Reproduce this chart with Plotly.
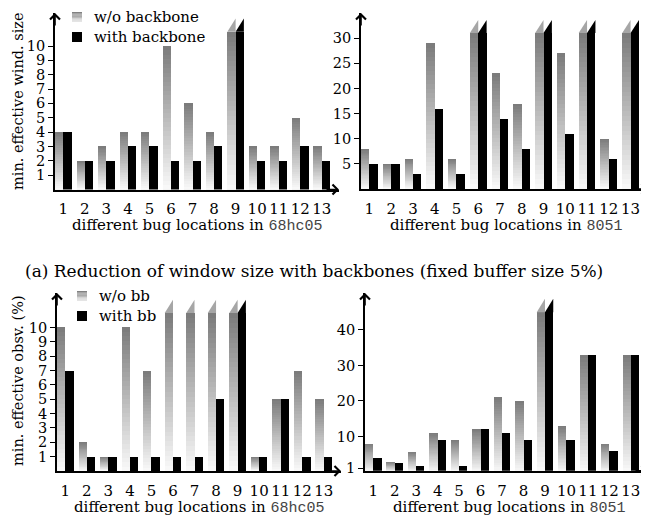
import plotly.graph_objects as go

# ---------------- data ----------------
categories = list(range(1, 14))
tick_labels = [str(c) for c in categories]

win_68hc05_wo = [4, 2, 3, 4, 4, 10, 6, 4, 11, 3, 3, 5, 3]
win_68hc05_with = [4, 2, 2, 3, 3, 2, 2, 3, 11, 2, 2, 3, 2]
win_68hc05_wo_cut = [9]
win_68hc05_with_cut = [9]
win_68hc05_yticks = [1, 2, 3, 4, 5, 6, 7, 8, 9, 10]

win_8051_wo = [8, 5, 6, 29, 6, 31, 23, 17, 31, 27, 31, 10, 31]
win_8051_with = [5, 5, 3, 16, 3, 31, 14, 8, 31, 11, 31, 6, 31]
win_8051_wo_cut = [6, 9, 11, 13]
win_8051_with_cut = [6, 9, 11, 13]
win_8051_yticks = [5, 10, 15, 20, 25, 30]

obs_68hc05_wo = [10, 2, 1, 10, 7, 11, 11, 11, 11, 1, 5, 7, 5]
obs_68hc05_with = [7, 1, 1, 1, 1, 1, 1, 5, 11, 1, 5, 1, 1]
obs_68hc05_wo_cut = [6, 7, 8, 9]
obs_68hc05_with_cut = [9]
obs_68hc05_yticks = [1, 2, 3, 4, 5, 6, 7, 8, 9, 10]

obs_8051_wo = [8, 2.9, 5.7, 10.9, 8.9, 12, 21, 20, 45, 13, 33, 8, 33]
obs_8051_with = [3.8, 2.6, 1.8, 8.9, 1.8, 12, 11, 8.9, 45, 8.9, 33, 5.8, 33]
obs_8051_wo_cut = [9]
obs_8051_with_cut = [9]
obs_8051_yticks = [1, 10, 20, 30, 40]

legend_top = ["w/o backbone", "with backbone"]
legend_bottom = ["w/o bb", "with bb"]
caption = "(a) Reduction of window size with backbones (fixed buffer size 5%)"

# ---------------- styling ----------------
PAGE_W, PAGE_H = 649, 522
OFF = 8  # default page margin around the plot div
W, H = PAGE_W - OFF, PAGE_H - OFF
SERIF = "DejaVu Serif"
MONO = "Liberation Mono"
BW = 0.385
N = 32
TOP_G, BOT_G = 122, 250


def px(x):
    return (x - OFF) / W


def py(y):
    return 1 - (y - OFF) / H


panels = [
    dict(wo=win_68hc05_wo, wi=win_68hc05_with, wcut=win_68hc05_wo_cut, icut=win_68hc05_with_cut,
         yt=win_68hc05_yticks, yr=[0, 12.3], xd=[55, 339], yd=[189.5, 13], ax=""),
    dict(wo=win_8051_wo, wi=win_8051_with, wcut=win_8051_wo_cut, icut=win_8051_with_cut,
         yt=win_8051_yticks, yr=[0, 35], xd=[361, 648], yd=[189, 13], ax="2"),
    dict(wo=obs_68hc05_wo, wi=obs_68hc05_with, wcut=obs_68hc05_wo_cut, icut=obs_68hc05_with_cut,
         yt=obs_68hc05_yticks, yr=[0, 12.4], xd=[57, 341], yd=[471, 293], ax="3"),
    dict(wo=obs_8051_wo, wi=obs_8051_with, wcut=obs_8051_wo_cut, icut=obs_8051_with_cut,
         yt=obs_8051_yticks, yr=[0.35, 50.4], xd=[365, 648], yd=[470.7, 293], ax="4"),
]

fig = go.Figure()
shapes = []
annotations = []
layout = {}

for p in panels:
    xa, ya = "x" + p["ax"], "y" + p["ax"]
    # gradient bars: overlaid progressively shorter & lighter bars
    for k in range(N):
        frac = (N - k) / N
        fm = (N - k - 0.5) / N
        g = round(BOT_G - (BOT_G - TOP_G) * fm)
        fig.add_trace(go.Bar(
            x=categories, y=[v * frac for v in p["wo"]], width=BW, offset=-BW,
            marker=dict(color=f"rgb({g},{g},{g})", line=dict(width=0)),
            xaxis=xa, yaxis=ya, showlegend=False, hoverinfo="skip"))
    fig.add_trace(go.Bar(
        x=categories, y=p["wi"], width=BW, offset=0,
        marker=dict(color="black", line=dict(width=0)),
        xaxis=xa, yaxis=ya, showlegend=False))
    # broken-bar caps
    cap = 0.075 * (p["yr"][1] - p["yr"][0])
    for c in p["wcut"]:
        v = p["wo"][categories.index(c)]
        shapes.append(dict(type="path", xref=xa, yref=ya, line=dict(width=0), fillcolor="#a6a6a6",
                           path=f"M {c - BW},{v} L {c},{v + cap} L {c},{v} Z"))
    for c in p["icut"]:
        v = p["wi"][categories.index(c)]
        shapes.append(dict(type="path", xref=xa, yref=ya, line=dict(width=0), fillcolor="black",
                           path=f"M {c},{v} L {c + BW},{v + cap} L {c + BW},{v} Z"))

    xkey = "xaxis" + p["ax"]
    ykey = "yaxis" + p["ax"]
    layout[xkey] = dict(
        domain=[px(p["xd"][0]), px(p["xd"][1])], range=[0.615, 13.8], anchor=ya,
        tickvals=categories, ticktext=tick_labels, ticks="outside", ticklen=5, tickangle=0,
        tickcolor="rgba(0,0,0,0)", showline=True, linecolor="black", linewidth=1.6,
        showgrid=False, zeroline=False, automargin=False,
        tickfont=dict(family=SERIF, size=15, color="black"))
    layout[ykey] = dict(
        domain=[py(p["yd"][0]), py(p["yd"][1])], range=p["yr"], anchor=xa,
        tickvals=p["yt"], ticks="outside", ticklen=5, tickwidth=1.2, tickcolor="black",
        showline=True, linecolor="black", linewidth=1.6, showgrid=False, zeroline=False,
        automargin=False, tickfont=dict(family=SERIF, size=14.5, color="black"))
    # axis arrows
    annotations.append(dict(xref=xa + " domain", yref=ya + " domain", x=0, y=1, ax=0, ay=14,
                            text="", showarrow=True, arrowhead=4, arrowwidth=1.6, arrowsize=1.2,
                            arrowcolor="black"))
    annotations.append(dict(xref=xa + " domain", yref=ya + " domain", x=1, y=0, ax=-14, ay=0,
                            text="", showarrow=True, arrowhead=4, arrowwidth=1.6, arrowsize=1.2,
                            arrowcolor="black"))

mono = lambda s: f"<span style='font-family:{MONO};color:#444'>{s}</span>"
txt = dict(family=SERIF, size=15, color="black")
for (cx, cy, s) in [(197, 225, "68hc05"), (506, 225, "8051"), (199, 507, "68hc05"), (509, 507, "8051")]:
    annotations.append(dict(xref="paper", yref="paper", x=px(cx), y=py(cy), xanchor="center",
                            yanchor="middle", showarrow=False, font=txt,
                            text="different bug locations in " + mono(s)))
ytxt = dict(family=SERIF, size=14.5, color="black")
annotations.append(dict(xref="paper", yref="paper", x=px(18), y=py(101), textangle=-90,
                        xanchor="center", yanchor="middle", showarrow=False, font=ytxt,
                        text="min. effective wind. size"))
annotations.append(dict(xref="paper", yref="paper", x=px(18), y=py(381), textangle=-90,
                        xanchor="center", yanchor="middle", showarrow=False, font=ytxt,
                        text="min. effective obsv. (%)"))
annotations.append(dict(xref="paper", yref="paper", x=px(314), y=py(271), xanchor="center",
                        yanchor="middle", showarrow=False, font=dict(family=SERIF, size=17, color="black"),
                        text=caption))

# manual legends (swatch + label)
for (sx, sy, names) in [(72, 12, legend_top), (77, 291, legend_bottom)]:
    strips = 8
    for i in range(strips):
        g = round(TOP_G + (235 - TOP_G) * (i + 0.5) / strips)
        shapes.append(dict(type="rect", xref="paper", yref="paper", line=dict(width=0),
                           fillcolor=f"rgb({g},{g},{g})",
                           x0=px(sx), x1=px(sx + 10), y0=py(sy + 10 * i / strips),
                           y1=py(sy + 10 * (i + 1) / strips)))
    shapes.append(dict(type="rect", xref="paper", yref="paper", line=dict(width=0),
                       fillcolor="black", x0=px(sx), x1=px(sx + 10),
                       y0=py(sy + 20), y1=py(sy + 30)))
    for j, nm in enumerate(names):
        annotations.append(dict(xref="paper", yref="paper", x=px(sx + 20), y=py(sy + 5 + 20 * j),
                                xanchor="left", yanchor="middle", showarrow=False,
                                font=dict(family=SERIF, size=15, color="black"), text=nm))

fig.update_layout(
    width=W, height=H, margin=dict(l=0, r=0, t=0, b=0),
    paper_bgcolor="white", plot_bgcolor="white", barmode="overlay", bargap=0,
    showlegend=False, shapes=shapes, annotations=annotations,
    **layout,
)

fig.write_html("out.html")
